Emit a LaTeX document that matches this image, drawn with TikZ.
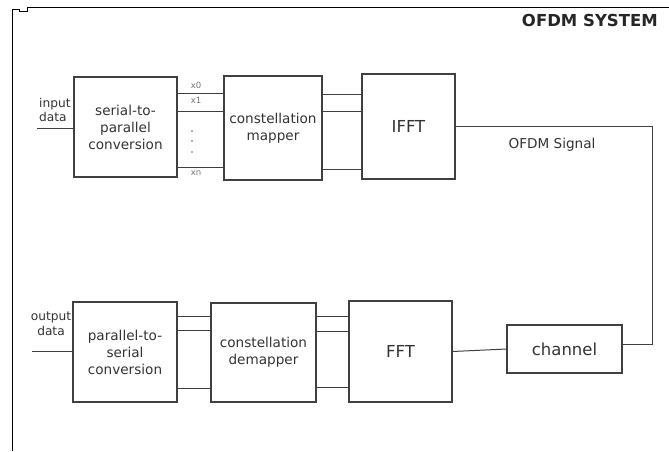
\documentclass[tikz,border=0pt]{standalone}
\usepackage{fontspec}
\setmainfont{DejaVu Sans}
\usepackage{tikz}
\tikzset{
  blk/.style={draw=black!75, line width=1.1pt, inner sep=0pt, align=center,
    text=black!80, font=\fontsize{13.6}{17}\selectfont},
  bigblk/.style={blk, font=\fontsize{16.5}{19}\selectfont},
  wire/.style={draw=black!75, line width=1pt},
  lbl/.style={inner sep=0pt, text=black!80, font=\fontsize{12.2}{14.5}\selectfont},
  xlbl/.style={inner sep=0pt, text=black!55, font=\fontsize{8.5}{10}\selectfont}
}

\begin{document}
\begin{tikzpicture}[x=1pt,y=-1pt]
  \useasboundingbox (0,0) rectangle (669,451);
  % page frame and title
  \draw[line width=0.9pt] (12,451) -- (12,9) -- (19,9) -- (19,11) -- (27,11) -- (27,7) -- (669,7);
  \node[anchor=base east, inner sep=0pt, text=black!85,
        font=\fontsize{16.5}{19}\selectfont\bfseries] (title) at (658,26) {OFDM SYSTEM};

  % transmitter
  \node[blk, minimum width=103, minimum height=100] (sp) at (125.5,127) {serial-to-\\parallel\\conversion};
  \node[blk, minimum width=98, minimum height=104] (map) at (273,128) {constellation\\mapper};
  \node[bigblk, minimum width=93, minimum height=105] (ifft) at (408.5,126.5) {IFFT};

  % receiver
  \node[blk, minimum width=104, minimum height=100] (ps) at (125,352) {parallel-to-\\serial\\conversion};
  \node[blk, minimum width=105, minimum height=99] (dem) at (263.5,352.5) {constellation\\demapper};
  \node[bigblk, minimum width=103, minimum height=101] (fft) at (400.5,351.5) {FFT};
  \node[bigblk, minimum width=115, minimum height=48] (chan) at (564.5,349) {channel};

  % data in / out
  \node[lbl, anchor=west, align=left] (indata) at (39,110) {input\\data};
  \node[lbl, align=center] (outdata) at (51,324) {output\\data};
  \coordinate (in) at (37,128);
  \coordinate (out) at (32,351);
  \draw[wire] (in) -- (sp.west |- in);
  \draw[wire] (out) -- (ps.west |- out);

  % parallel branches, s/p -> mapper -> ifft
  \foreach \yy in {93,111,167}
    \draw[wire] (sp.east |- 0,\yy) -- (map.west |- 0,\yy);
  \foreach \yy in {94,111,169}
    \draw[wire] (map.east |- 0,\yy) -- (ifft.west |- 0,\yy);
  \node[xlbl] (x0) at (196,85) {x0};
  \node[xlbl] (x1) at (196,100) {x1};
  \node[xlbl] (xn) at (196,173) {xn};
  \foreach \yy in {131,141,152}
    \fill[black!60] (192,\yy) circle (0.9);

  % parallel branches, demapper <- fft, p/s <- demapper
  \foreach \yy in {316,330,388}
    \draw[wire] (ps.east |- 0,\yy) -- (dem.west |- 0,\yy);
  \foreach \yy in {316,331,387}
    \draw[wire] (dem.east |- 0,\yy) -- (fft.west |- 0,\yy);

  % ofdm signal through the channel
  \coordinate (turn) at (652,126);
  \draw[wire] (ifft.east |- turn) -- (turn) -- (turn |- 0,344) -- (chan.east |- 0,344);
  \draw[wire] (chan.west) -- (fft.east);
  \node[lbl, font=\fontsize{13.6}{16}\selectfont] (sig) at (552,145) {OFDM Signal};
\end{tikzpicture}
\end{document}
